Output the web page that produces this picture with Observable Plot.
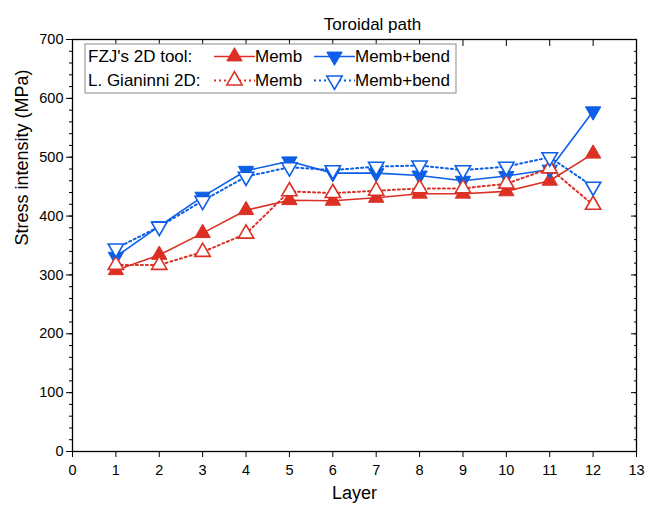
<!DOCTYPE html>
<html>
<head>
<meta charset="utf-8">
<script src="https://cdn.jsdelivr.net/npm/d3@7"></script>
<script src="https://cdn.jsdelivr.net/npm/@observablehq/plot@0.6"></script>
<style>
  html, body { margin: 0; padding: 0; background: #fff; }
  #chart { position: relative; width: 658px; height: 510px; }
  svg { font-family: "Liberation Sans", Arial, sans-serif; }
</style>
</head>
<body>
<div id="chart"></div>
<script>
const layers = [1, 2, 3, 4, 5, 6, 7, 8, 9, 10, 11, 12];
const fzjMemb      = [308, 334, 371, 410, 427, 426, 431, 438, 438, 442, 460, 506];
const fzjMembBend  = [331, 383, 433, 477, 493, 473, 473, 469, 460, 468, 479, 578];
const ganMemb      = [317, 317, 339, 370, 442, 439, 443, 447, 447, 455, 481, 419];
const ganMembBend  = [345, 382, 426, 467, 483, 478, 484, 486, 478, 484, 500, 450];
const xTicks = [0, 1, 2, 3, 4, 5, 6, 7, 8, 9, 10, 11, 12, 13];
const yTicks = [0, 100, 200, 300, 400, 500, 600, 700];
const yMinor = d3.range(0, 701, 20);

const RED = "#dc3024";
const BLUE = "#0c5fe6";

const series = [
  {name: "Memb", group: "FZJ's 2D tool:", values: fzjMemb, color: RED, filled: true, rot: 0, dash: null},
  {name: "Memb+bend", group: "FZJ's 2D tool:", values: fzjMembBend, color: BLUE, filled: true, rot: 180, dash: null},
  {name: "Memb", group: "L. Gianinni 2D:", values: ganMemb, color: RED, filled: false, rot: 0, dash: "2,3"},
  {name: "Memb+bend", group: "L. Gianinni 2D:", values: ganMembBend, color: BLUE, filled: false, rot: 180, dash: "2,3"}
];

const marks = [];
marks.push(Plot.axisX({ticks: xTicks, tickSize: 6, tickPadding: 7, fontSize: 14.5, label: null}));
marks.push(Plot.axisX({anchor: "top", ticks: xTicks, tickSize: -6, text: null, label: null}));
marks.push(Plot.axisY({ticks: yTicks, tickSize: 6, tickPadding: 3, fontSize: 14.5, label: null}));
marks.push(Plot.axisY({ticks: yMinor, tickSize: 3, text: null, label: null}));
marks.push(Plot.axisY({anchor: "right", ticks: yTicks, tickSize: -6, text: null, label: null}));
marks.push(Plot.axisY({anchor: "right", ticks: yMinor, tickSize: -3, text: null, label: null}));

for (const s of series) {
  const rows = layers.map((l, i) => ({layer: l, v: s.values[i]}));
  marks.push(Plot.line(rows, {x: "layer", y: "v", stroke: s.color, strokeWidth: s.dash ? 2 : 1.6, strokeDasharray: s.dash}));
}
for (const s of series) {
  const rows = layers.map((l, i) => ({layer: l, v: s.values[i]}));
  marks.push(Plot.dot(rows, {
    x: "layer", y: "v", symbol: "triangle", r: 5.7, rotate: s.rot,
    fill: s.filled ? s.color : "white", stroke: s.color, strokeWidth: s.filled ? 1 : 1.6
  }));
}
marks.push(Plot.frame({stroke: "black", strokeWidth: 1.3}));
marks.push(Plot.text(["Toroidal path"], {frameAnchor: "top", dx: 18, dy: -22, fontSize: 17, fill: "black"}));
marks.push(Plot.text(["Layer"], {frameAnchor: "bottom", dy: 47, fontSize: 18, fill: "black"}));
marks.push(Plot.text(["Stress intensity (MPa)"], {frameAnchor: "left", dx: -50, rotate: -90, fontSize: 18, fill: "black"}));

const plot = Plot.plot({
  width: 658,
  height: 510,
  marginLeft: 72,
  marginRight: 22,
  marginTop: 39,
  marginBottom: 59,
  style: {fontFamily: "'Liberation Sans', Arial, sans-serif", fontSize: "14.5px", color: "black", background: "white"},
  x: {domain: [0, 13]},
  y: {domain: [0, 700]},
  marks
});
document.getElementById("chart").appendChild(plot);

// Legend box (drawn from the series definitions)
const svg = d3.select(plot);
const lg = svg.append("g").attr("transform", "translate(85,44)").attr("text-anchor", "start");
lg.append("rect").attr("width", 371).attr("height", 49).attr("fill", "white").attr("stroke", "#8a8a8a").attr("stroke-width", 1);
const groups = ["FZJ's 2D tool:", "L. Gianinni 2D:"];
const rowY = [12.5, 36.5];
const colX = [129, 229];
const triangle = d3.symbol(d3.symbolTriangle, 5.7 * 5.7 * Math.PI);
groups.forEach((g, gi) => {
  lg.append("text").attr("x", 3).attr("y", rowY[gi]).attr("dy", "0.35em")
    .attr("font-size", 17).attr("fill", "black").text(g);
  series.filter(s => s.group === g).forEach((s, si) => {
    const cx = colX[si];
    lg.append("line").attr("x1", cx).attr("x2", cx + 41).attr("y1", rowY[gi]).attr("y2", rowY[gi])
      .attr("stroke", s.color).attr("stroke-width", s.dash ? 2 : 1.6).attr("stroke-dasharray", s.dash);
    lg.append("path").attr("d", triangle())
      .attr("transform", `translate(${cx + 20.5},${rowY[gi]}) rotate(${s.rot})`)
      .attr("fill", s.filled ? s.color : "white").attr("stroke", s.color).attr("stroke-width", s.filled ? 1 : 1.6);
    lg.append("text").attr("x", cx + 41).attr("y", rowY[gi]).attr("dy", "0.35em")
      .attr("font-size", 17).attr("fill", "black").text(s.name);
  });
});
</script>
</body>
</html>
